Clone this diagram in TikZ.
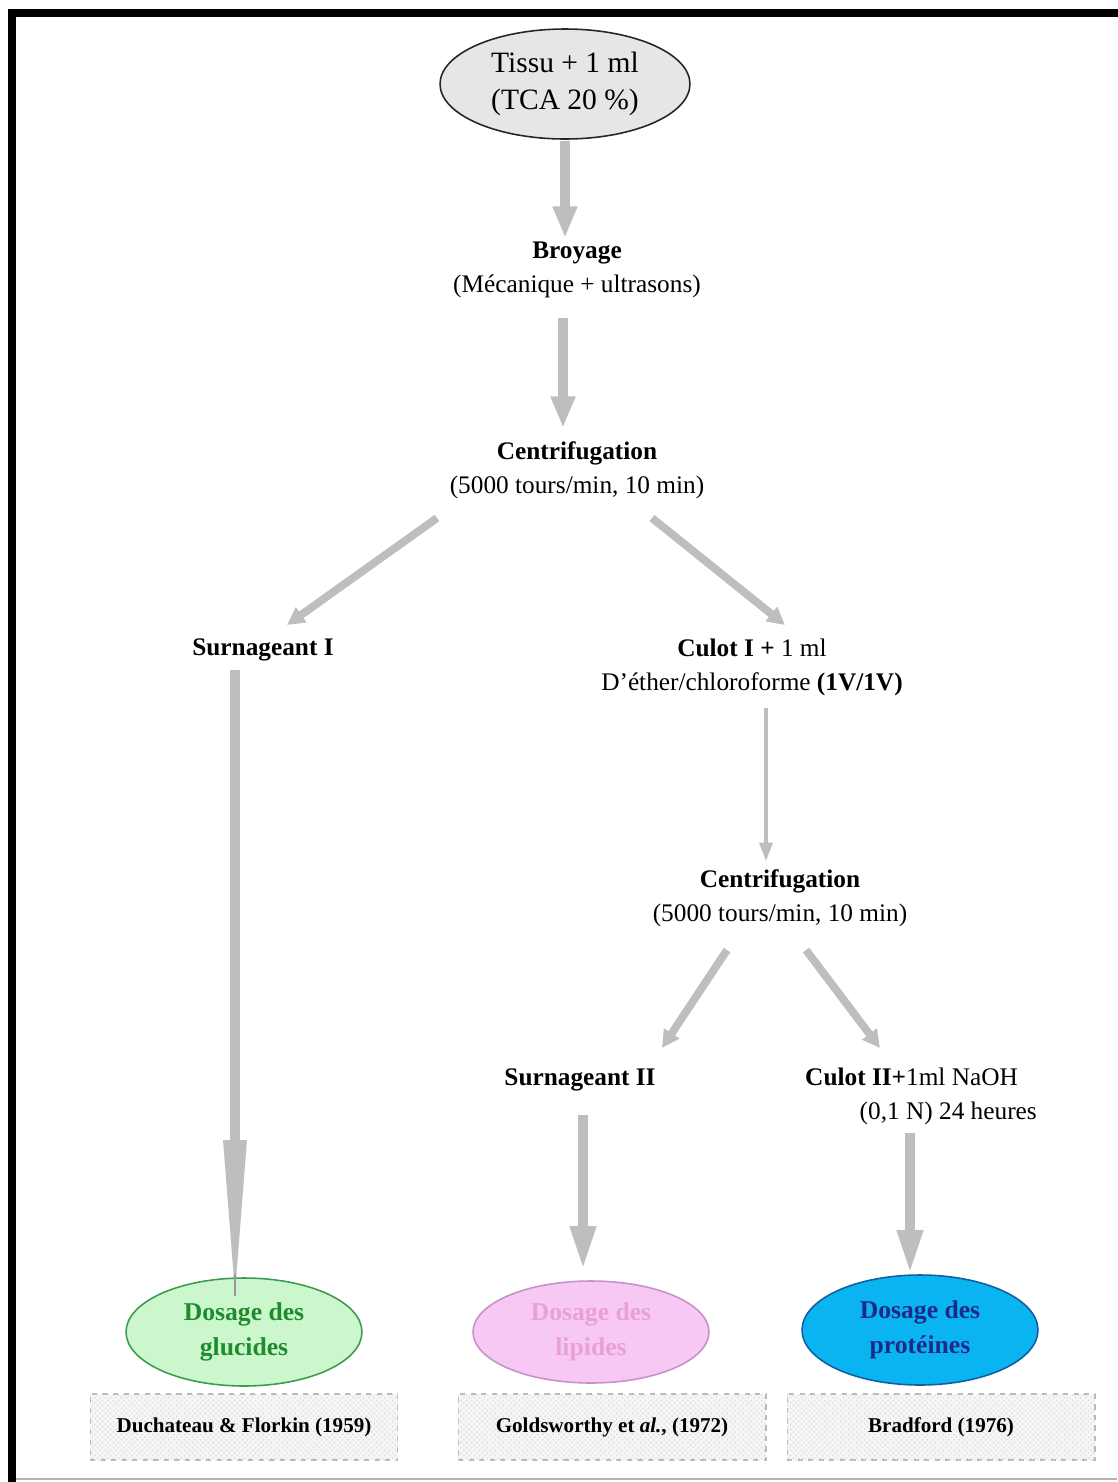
\documentclass[tikz,border=0pt]{standalone}
\usepackage{fontspec}
\setmainfont{Liberation Serif}
\usetikzlibrary{arrows.meta,shapes.geometric,calc,patterns}
\definecolor{arrgray}{HTML}{BEBEBE}
\definecolor{topfill}{HTML}{E6E6E6}
\definecolor{greenfill}{HTML}{CCF7CC}
\definecolor{greenline}{HTML}{3E9A4E}
\definecolor{greentext}{HTML}{1E8C2E}
\definecolor{pinkfill}{HTML}{F8C8F4}
\definecolor{pinkline}{HTML}{C890C8}
\definecolor{pinktext}{HTML}{E9A0D6}
\definecolor{bluefill}{HTML}{0AB4F0}
\definecolor{blueline}{HTML}{1060A0}
\definecolor{bluetext}{HTML}{1C2A8C}
\begin{document}
\begin{tikzpicture}[x=0.02cm,y=-0.02cm,
  lbl/.style={font=\fontsize{14.4}{19.3}\selectfont, align=center, inner sep=0pt},
  endell/.style={ellipse, minimum width=4.72cm, minimum height=2.16cm, line width=0.9pt,
    font=\bfseries\fontsize{14.6}{20}\selectfont, align=center},
  refbox/.style={rectangle, minimum width=6.16cm, minimum height=1.32cm, draw=gray!55, dashed,
    line width=0.6pt, fill=gray!7, postaction={pattern=crosshatch dots, pattern color=gray!30},
    font=\bfseries\fontsize{12}{14}\selectfont},
  bigarrow/.style={draw=arrgray, line width=5.7pt, -{Triangle[length=18pt,width=13pt]}, arrgray},
  diagarrow/.style={draw=arrgray, line width=4.5pt, -{Triangle[length=10pt,width=10pt]}, arrgray},
  thinarrow/.style={draw=arrgray, line width=2.8pt, -{Triangle[length=11pt,width=7pt]}, arrgray},
  shaft/.style={draw=arrgray, line width=5.7pt},
  lowarrow/.style={draw=arrgray, line width=5.7pt, -{Triangle[length=25pt,width=13.6pt]}, arrgray}]
\useasboundingbox (0,0) rectangle (1117,1482);
% frame
\draw[line width=4.6pt, black] (12,1490) -- (12,13) -- (1125,13);
\draw[line width=0.6pt, gray!60] (16,1479) -- (1117,1479);

% nodes
\node[ellipse, minimum width=5cm, minimum height=2.2cm, fill=topfill, draw=gray!30!black,
  line width=0.9pt, font=\fontsize{16.8}{21.5}\selectfont, align=center] (tissu) at (565,84)
  {Tissu + 1 ml\\(TCA 20 \%)};
\node[lbl] (broy) at (577,270) {\textbf{Broyage}\\(Mécanique + ultrasons)};
\node[lbl] (centr1) at (577,470) {\textbf{Centrifugation}\\(5000 tours/min, 10 min)};
\node[lbl] (surn1) at (263,650) {\textbf{Surnageant I}};
\node[lbl] (culot1) at (752,667) {\textbf{Culot I +} 1 ml\\D'éther/chloroforme \textbf{(1V/1V)}};
\node[lbl] (centr2) at (780,898) {\textbf{Centrifugation}\\(5000 tours/min, 10 min)};
\node[lbl] (surn2) at (580,1080) {\textbf{Surnageant II}};
\node[lbl, align=left] (culot2) at (921,1096) {\textbf{Culot II+}1ml NaOH\\\hspace*{31pt}(0,1 N) 24 heures};

\node[endell, fill=greenfill, draw=greenline, text=greentext] (gluc) at (244,1332) {Dosage des\\glucides};
\node[endell, fill=pinkfill, draw=pinkline, text=pinktext, minimum height=2.04cm] (lip) at (591,1332) {Dosage des\\lipides};
\node[endell, fill=bluefill, draw=blueline, text=bluetext, minimum height=2.2cm] (prot) at (920,1330) {Dosage des\\protéines};

\node[refbox] (r1) at (244,1427) {Duchateau \& Florkin (1959)};
\node[refbox] (r2) at (612,1427) {Goldsworthy et \textit{al.}, (1972)};
\node[refbox] (r3) at (941,1427) {Bradford (1976)};

% connectors
\draw[bigarrow] ($(tissu)+(0,57)$) -- ($(broy)+(-12,-32)$);
\draw[bigarrow] ($(broy)+(-14,48)$) -- ($(centr1)+(-14,-42)$);
\draw[diagarrow] ($(centr1)+(-140,48)$) -- ($(surn1)+(24,-25)$);
\draw[diagarrow] ($(centr1)+(75,48)$) -- ($(culot1)+(33,-42)$);
% long tapered arrow Surnageant I -> glucides
\draw[shaft] ($(surn1)+(-28,20)$) -- ($(gluc)+(-9,-188)$);
\fill[arrgray] ($(gluc)+(-21,-192)$) -- ($(gluc)+(3,-192)$) -- ($(gluc)+(-8,-52)$) -- ($(gluc)+(-10,-52)$) -- cycle;
\draw[draw=arrgray!80!black, line width=0.8pt] ($(gluc)+(-9,-58)$) -- ($(gluc)+(-9,-36)$);
\draw[thinarrow] ($(culot1)+(14,41)$) -- ($(centr2)+(-14,-36)$);
\draw[diagarrow] ($(centr2)+(-53,52)$) -- ($(surn2)+(82,-32)$);
\draw[diagarrow] ($(centr2)+(26,52)$) -- ($(culot2)+(-41,-48)$);
\draw[lowarrow] ($(surn2)+(3,35)$) -- ($(lip)+(-8,-62)$);
\draw[lowarrow] ($(culot2)+(-11,37)$) -- ($(prot)+(-10,-56)$);
\end{tikzpicture}
\end{document}
